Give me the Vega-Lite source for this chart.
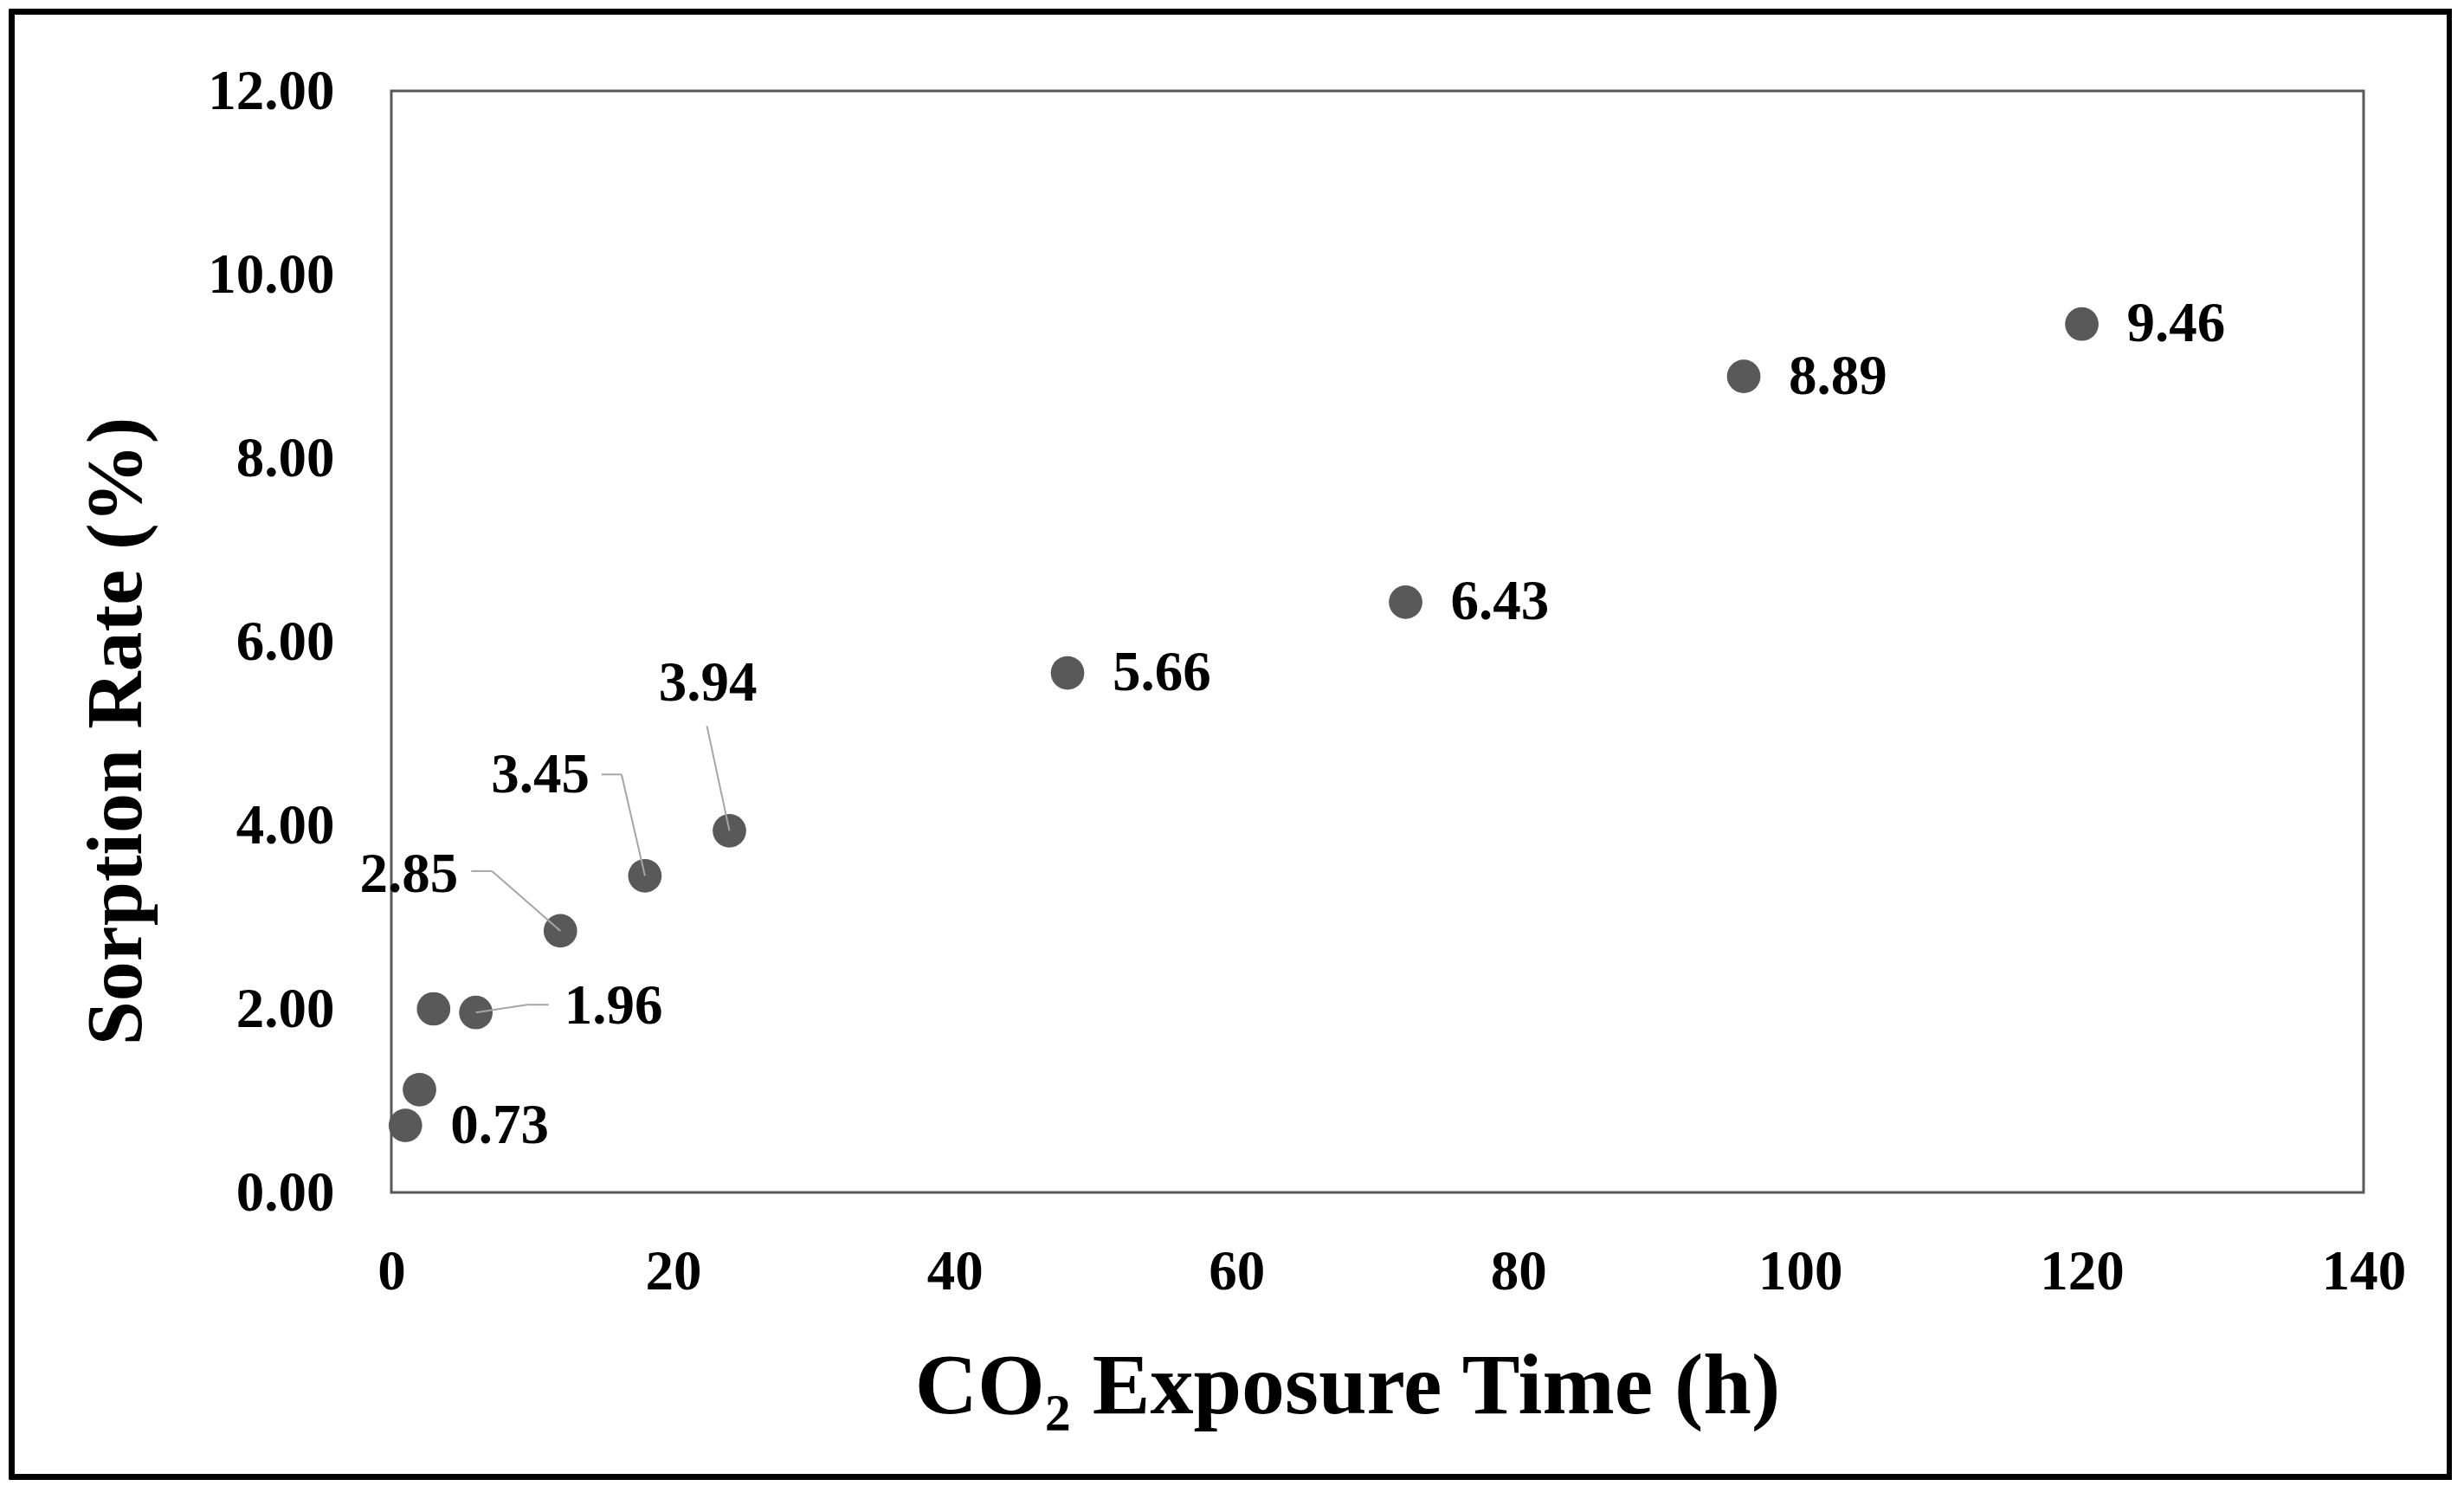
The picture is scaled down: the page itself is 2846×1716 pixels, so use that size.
{
  "$schema": "https://vega.github.io/schema/vega-lite/v6.json",
  "width": 2278,
  "height": 1272,
  "autosize": {"type": "none"},
  "padding": {"left": 452, "top": 105, "right": 116, "bottom": 339},
  "background": "white",
  "config": {
    "view": {"stroke": "#595959", "strokeWidth": 3},
    "font": "Liberation Serif"
  },
  "data": {
    "values": [
      {"time": 1, "rate": 0.73, "label": "0.73"},
      {"time": 2, "rate": 1.12, "label": ""},
      {"time": 3, "rate": 2.0, "label": ""},
      {"time": 6, "rate": 1.96, "label": "1.96"},
      {"time": 12, "rate": 2.85, "label": "2.85"},
      {"time": 18, "rate": 3.45, "label": "3.45"},
      {"time": 24, "rate": 3.94, "label": "3.94"},
      {"time": 48, "rate": 5.66, "label": "5.66"},
      {"time": 72, "rate": 6.43, "label": "6.43"},
      {"time": 96, "rate": 8.89, "label": "8.89"},
      {"time": 120, "rate": 9.46, "label": "9.46"}
    ]
  },
  "encoding": {
    "x": {
      "field": "time",
      "type": "quantitative",
      "scale": {"domain": [0, 140], "nice": false, "zero": false},
      "axis": {
        "title": "CO₂ Exposure Time (h)",
        "values": [0, 20, 40, 60, 80, 100, 120, 140],
        "domain": false,
        "ticks": false,
        "tickSize": 0,
        "grid": false,
        "labelFont": "Liberation Serif",
        "labelFontSize": 65,
        "labelFontWeight": "bold",
        "labelColor": "black",
        "labelPadding": 60,
        "labelOverlap": false,
        "labelFlush": false,
        "titleFont": "Liberation Serif",
        "titleFontSize": 100,
        "titleFontWeight": "bold",
        "titleColor": "black",
        "titleX": 1104,
        "titleY": 224,
        "titleBaseline": "middle"
      }
    },
    "y": {
      "field": "rate",
      "type": "quantitative",
      "scale": {"domain": [0, 12], "nice": false, "zero": false},
      "axis": {
        "title": "Sorption Rate (%)",
        "values": [0, 2, 4, 6, 8, 10, 12],
        "format": ".2f",
        "domain": false,
        "ticks": false,
        "tickSize": 0,
        "grid": false,
        "labelFont": "Liberation Serif",
        "labelFontSize": 65,
        "labelFontWeight": "bold",
        "labelColor": "black",
        "labelPadding": 66,
        "labelOverlap": false,
        "labelFlush": false,
        "titleFont": "Liberation Serif",
        "titleFontSize": 92,
        "titleFontWeight": "bold",
        "titleColor": "black",
        "titleX": -318,
        "titleY": 739,
        "titleBaseline": "middle"
      }
    }
  },
  "layer": [
    {
      "mark": {"type": "rect", "fill": "transparent", "stroke": "black", "strokeWidth": 5.5, "clip": false},
      "encoding": {
        "x": {"datum": -26.95, "type": "quantitative"},
        "x2": {"datum": 146.09},
        "y": {"datum": 12.863, "type": "quantitative"},
        "y2": {"datum": -3.099}
      }
    },
    {
      "mark": {"type": "circle", "size": 1500, "color": "#595959", "opacity": 1}
    },
    {
      "transform": [{"filter": "datum.time == 6"}],
      "mark": {"type": "rule", "color": "#a6a6a6", "strokeWidth": 2, "x2Offset": 59, "y2Offset": -9},
      "encoding": {"x2": {"field": "time"}, "y2": {"field": "rate"}}
    },
    {
      "transform": [{"filter": "datum.time == 6"}],
      "mark": {"type": "rule", "color": "#a6a6a6", "strokeWidth": 2, "xOffset": 59, "yOffset": -9, "x2Offset": 84, "y2Offset": -9},
      "encoding": {"x2": {"field": "time"}, "y2": {"field": "rate"}}
    },
    {
      "transform": [{"filter": "datum.time == 12"}],
      "mark": {"type": "rule", "color": "#a6a6a6", "strokeWidth": 2, "x2Offset": -79, "y2Offset": -69},
      "encoding": {"x2": {"field": "time"}, "y2": {"field": "rate"}}
    },
    {
      "transform": [{"filter": "datum.time == 12"}],
      "mark": {"type": "rule", "color": "#a6a6a6", "strokeWidth": 2, "xOffset": -79, "yOffset": -69, "x2Offset": -103, "y2Offset": -69},
      "encoding": {"x2": {"field": "time"}, "y2": {"field": "rate"}}
    },
    {
      "transform": [{"filter": "datum.time == 18"}],
      "mark": {"type": "rule", "color": "#a6a6a6", "strokeWidth": 2, "x2Offset": -27, "y2Offset": -117},
      "encoding": {"x2": {"field": "time"}, "y2": {"field": "rate"}}
    },
    {
      "transform": [{"filter": "datum.time == 18"}],
      "mark": {"type": "rule", "color": "#a6a6a6", "strokeWidth": 2, "xOffset": -27, "yOffset": -117, "x2Offset": -50, "y2Offset": -117},
      "encoding": {"x2": {"field": "time"}, "y2": {"field": "rate"}}
    },
    {
      "transform": [{"filter": "datum.time == 24"}],
      "mark": {"type": "rule", "color": "#a6a6a6", "strokeWidth": 2, "x2Offset": -26, "y2Offset": -121},
      "encoding": {"x2": {"field": "time"}, "y2": {"field": "rate"}}
    },
    {
      "transform": [{"filter": {"field": "time", "oneOf": [1, 48, 72, 96, 120]}}],
      "mark": {"type": "text", "align": "left", "baseline": "middle", "dx": 52, "dy": 0, "font": "Liberation Serif", "fontSize": 65, "fontWeight": "bold", "color": "black"},
      "encoding": {"text": {"field": "label"}}
    },
    {
      "transform": [{"filter": "datum.time == 6"}],
      "mark": {"type": "text", "align": "left", "baseline": "middle", "dx": 102, "dy": -7, "font": "Liberation Serif", "fontSize": 65, "fontWeight": "bold", "color": "black"},
      "encoding": {"text": {"field": "label"}}
    },
    {
      "transform": [{"filter": "datum.time == 12"}],
      "mark": {"type": "text", "align": "right", "baseline": "middle", "dx": -118, "dy": -65, "font": "Liberation Serif", "fontSize": 65, "fontWeight": "bold", "color": "black"},
      "encoding": {"text": {"field": "label"}}
    },
    {
      "transform": [{"filter": "datum.time == 18"}],
      "mark": {"type": "text", "align": "right", "baseline": "middle", "dx": -64, "dy": -116, "font": "Liberation Serif", "fontSize": 65, "fontWeight": "bold", "color": "black"},
      "encoding": {"text": {"field": "label"}}
    },
    {
      "transform": [{"filter": "datum.time == 24"}],
      "mark": {"type": "text", "align": "center", "baseline": "middle", "dx": -25, "dy": -170, "font": "Liberation Serif", "fontSize": 65, "fontWeight": "bold", "color": "black"},
      "encoding": {"text": {"field": "label"}}
    }
  ]
}
